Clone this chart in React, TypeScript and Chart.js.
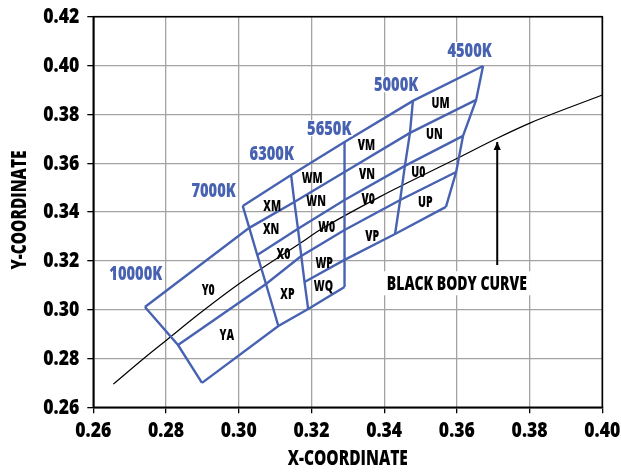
import React, { useEffect, useRef } from 'react';
import { Chart, registerables } from 'chart.js';

Chart.register(...registerables);

// ---------- axis ranges / ticks ----------
const xRange = [0.26, 0.40];
const yRange = [0.26, 0.42];
const tickStep = 0.02;
const xTitle = 'X-COORDINATE';
const yTitle = 'Y-COORDINATE';

// ---------- CCT boundary lines (from upper corner down) ----------
const cctNames = ['10000K', '7000K', '6300K', '5650K', '5000K', '4500K'];
const cctLineX = [
  [0.2742, 0.2833, 0.2899],
  [0.3011, 0.3029, 0.3051, 0.3075, 0.3109],
  [0.3144, 0.3153, 0.3163, 0.3172, 0.3181, 0.3191],
  [0.3291, 0.3291, 0.3291, 0.3291, 0.3291, 0.3291],
  [0.3479, 0.3471, 0.3457, 0.3444, 0.3430],
  [0.3672, 0.3653, 0.3617, 0.3598, 0.3570],
];
const cctLineY = [
  [0.3011, 0.2855, 0.2700],
  [0.3425, 0.3335, 0.3224, 0.3105, 0.2933],
  [0.3552, 0.3441, 0.3331, 0.3220, 0.3113, 0.3003],
  [0.3687, 0.3564, 0.3449, 0.3326, 0.3204, 0.3093],
  [0.3855, 0.3724, 0.3589, 0.3449, 0.3310],
  [0.3998, 0.3859, 0.3712, 0.3564, 0.3421],
];
// bin row boundaries: which corner of which CCT line each joins [line, corner]
const rowLines: number[][][] = [
  [[1, 0], [2, 0], [3, 0], [4, 0], [5, 0]],
  [[0, 0], [1, 1], [2, 1], [3, 1], [4, 1], [5, 1]],
  [[1, 2], [2, 2], [3, 2], [4, 2], [5, 2]],
  [[0, 1], [1, 3], [2, 3], [3, 3], [4, 3], [5, 3]],
  [[2, 4], [3, 4], [4, 4], [5, 4]],
  [[0, 2], [1, 4], [2, 5], [3, 5]],
];

// ---------- CCT labels ----------
const cctLabelX = [0.2717, 0.2931, 0.3091, 0.3249, 0.3433, 0.3635];
const cctLabelY = [0.3149, 0.3489, 0.3642, 0.3743, 0.3923, 0.4063];

// ---------- bin labels ----------
const binNames = ['UM', 'UN', 'U0', 'UP', 'VM', 'VN', 'V0', 'VP', 'WM', 'WN', 'W0', 'WP', 'WQ', 'XM', 'XN', 'X0', 'XP', 'Y0', 'YA'];
const binLabelX = [0.3555, 0.3538, 0.3494, 0.3513, 0.3351, 0.3353, 0.3356, 0.3367, 0.3202, 0.3213, 0.3242, 0.3235, 0.3233, 0.3092, 0.3089, 0.3123, 0.3134, 0.2916, 0.2967];
const binLabelY = [0.3849, 0.3721, 0.3565, 0.3442, 0.3678, 0.3559, 0.3456, 0.3306, 0.3542, 0.3446, 0.3342, 0.3193, 0.3099, 0.3429, 0.3333, 0.3231, 0.3067, 0.3084, 0.2900];

// ---------- black body curve ----------
const blackBodyX = [0.2655, 0.2747, 0.2802, 0.2893, 0.3003, 0.3169, 0.3224, 0.3389, 0.3604, 0.3708, 0.3804, 0.4000];
const blackBodyY = [0.2695, 0.2810, 0.2876, 0.2985, 0.3108, 0.3272, 0.3327, 0.3463, 0.3622, 0.3700, 0.3766, 0.3879];

// ---------- annotation ----------
const curveNote = 'BLACK BODY CURVE';
const curveNoteX = 0.3600;
const curveNoteY = 0.3108;
const arrowX = [0.3711, 0.3711];
const arrowY = [0.3183, 0.3687];

const BLUE = '#4862B2';
const FAMILY = "'Open Sans', 'Roboto', 'Liberation Sans', sans-serif";
const WEIGHT = '800';
const CAP = 0.714;

export default function App() {
  const ref = useRef<HTMLCanvasElement | null>(null);

  useEffect(() => {
    if (!ref.current) return;

    const mc = document.createElement('canvas').getContext('2d')!;
    const squeeze = (sample: string, size: number, target: number) => {
      mc.font = `${WEIGHT} ${size}px ${FAMILY}`;
      return target / mc.measureText(sample).width;
    };
    const S = {
      tick: { size: 21, k: squeeze('0.42', 21, 36) },
      title: { size: 21, k: squeeze(xTitle, 21, 120) },
      cct: { size: 18.5, k: squeeze('10000K', 18.5, 53) },
      bin: { size: 16, k: squeeze('WM', 16, 21) },
      note: { size: 18.5, k: squeeze(curveNote, 18.5, 140) },
    };

    const txt = (ctx: CanvasRenderingContext2D, t: string, x: number, y: number, st: { size: number; k: number }, align: CanvasTextAlign, color: string, rot = 0) => {
      ctx.save();
      ctx.translate(x, y);
      if (rot) ctx.rotate(rot);
      ctx.scale(st.k, 1);
      ctx.font = `${WEIGHT} ${st.size}px ${FAMILY}`;
      ctx.textAlign = align;
      ctx.textBaseline = 'alphabetic';
      ctx.fillStyle = color;
      ctx.fillText(t, 0, (st.size * CAP) / 2);
      ctx.restore();
    };

    const datasets: any[] = [];
    cctLineX.forEach((xs, i) => {
      datasets.push({
        label: cctNames[i],
        data: xs.map((x, j) => ({ x, y: cctLineY[i][j] })),
        showLine: true,
        borderColor: BLUE,
        borderWidth: 2.4,
        pointRadius: 0,
        tension: 0,
        fill: false,
      });
    });
    rowLines.forEach((row, i) => {
      datasets.push({
        label: 'row' + i,
        data: row.map(([l, c]) => ({ x: cctLineX[l][c], y: cctLineY[l][c] })),
        showLine: true,
        borderColor: BLUE,
        borderWidth: 2.4,
        pointRadius: 0,
        tension: 0,
        fill: false,
      });
    });
    datasets.push({
      label: 'Black body',
      data: blackBodyX.map((x, i) => ({ x, y: blackBodyY[i] })),
      showLine: true,
      borderColor: '#000',
      borderWidth: 1.2,
      pointRadius: 0,
      cubicInterpolationMode: 'monotone',
      fill: false,
    });
    datasets.push({
      label: 'arrow',
      data: arrowX.map((x, i) => ({ x, y: arrowY[i] })),
      showLine: true,
      borderColor: '#000',
      borderWidth: 2,
      pointRadius: 0,
      fill: false,
    });

    const annot = {
      id: 'annot',
      afterDatasetsDraw(chart: any) {
        const { ctx, chartArea, scales } = chart;
        const sx = scales.x, sy = scales.y;
        ctx.save();
        // frame
        ctx.strokeStyle = '#000';
        ctx.lineWidth = 1.6;
        ctx.strokeRect(chartArea.left, chartArea.top, chartArea.right - chartArea.left, chartArea.bottom - chartArea.top);
        // arrow head
        const ax = sx.getPixelForValue(arrowX[1]);
        const ay = sy.getPixelForValue(arrowY[1]);
        ctx.fillStyle = '#000';
        ctx.beginPath();
        ctx.moveTo(ax, ay);
        ctx.lineTo(ax - 3.6, ay + 8);
        ctx.lineTo(ax + 3.6, ay + 8);
        ctx.closePath();
        ctx.fill();

        // tick labels
        sy.ticks.forEach((t: any) => {
          txt(ctx, Number(t.value).toFixed(2), 79.3, sy.getPixelForValue(t.value) - 1, S.tick, 'right', '#000');
        });
        sx.ticks.forEach((t: any) => {
          txt(ctx, Number(t.value).toFixed(2), sx.getPixelForValue(t.value), 430, S.tick, 'center', '#000');
        });
        // axis titles
        txt(ctx, xTitle, (chartArea.left + chartArea.right) / 2, 457.5, S.title, 'center', '#000');
        txt(ctx, yTitle, 18.5, (chartArea.top + chartArea.bottom) / 2 - 2, S.title, 'center', '#000', -Math.PI / 2);

        // black body note with white box
        const nx = sx.getPixelForValue(curveNoteX);
        const ny = sy.getPixelForValue(curveNoteY);
        ctx.fillStyle = '#fff';
        ctx.fillRect(nx - 74, ny - 12, 148, 24);
        txt(ctx, curveNote, nx, ny, S.note, 'center', '#000');

        // CCT labels
        cctNames.forEach((t, i) => {
          const px = sx.getPixelForValue(cctLabelX[i]);
          const py = sy.getPixelForValue(cctLabelY[i]);
          ctx.fillStyle = '#fff';
          const w = t.length * 9;
          ctx.fillRect(px - w / 2 - 1, py - 8, w + 2, 16);
          txt(ctx, t, px, py, S.cct, 'center', BLUE);
        });
        // bin labels
        binNames.forEach((t, i) => {
          txt(ctx, t, sx.getPixelForValue(binLabelX[i]), sy.getPixelForValue(binLabelY[i]), S.bin, 'center', '#000');
        });
        ctx.restore();
      },
    };

    const chart = new Chart(ref.current, {
      type: 'scatter',
      data: { datasets },
      options: {
        animation: false,
        responsive: false,
        events: [],
        layout: { padding: { left: 0, top: 16.7, right: 18.7, bottom: 0 } },
        plugins: { legend: { display: false }, tooltip: { enabled: false } },
        scales: {
          x: {
            type: 'linear',
            min: xRange[0],
            max: xRange[1],
            ticks: { stepSize: tickStep, display: false, autoSkip: false },
            grid: { color: '#a3a3a3', lineWidth: 1.3, tickLength: 6, tickColor: '#000', drawTicks: true },
            border: { color: '#000', width: 1.6 },
            afterFit: (s: any) => { s.height = 65.7; },
          },
          y: {
            type: 'linear',
            position: 'left',
            min: yRange[0],
            max: yRange[1],
            ticks: { stepSize: tickStep, display: false, autoSkip: false },
            grid: { color: '#a3a3a3', lineWidth: 1.3, tickLength: 6, tickColor: '#000', drawTicks: true },
            border: { color: '#000', width: 1.6 },
            afterFit: (s: any) => { s.width = 93.3; },
          },
        },
      },
      plugins: [annot],
    });
    return () => chart.destroy();
  }, []);

  return (
    <div style={{ position: 'absolute', left: 0, top: 0, width: 621, height: 473, background: '#fff' }}>
      <canvas ref={ref} width={621} height={473} style={{ display: 'block', width: 621, height: 473 }} />
    </div>
  );
}
